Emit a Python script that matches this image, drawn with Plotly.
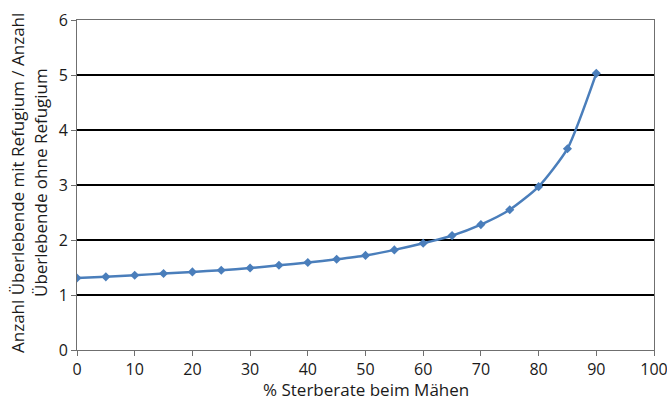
import plotly.graph_objects as go

mortality = [0, 5, 10, 15, 20, 25, 30, 35, 40, 45, 50, 55, 60, 65, 70, 75, 80, 85, 90]
ratio = [1.31, 1.33, 1.36, 1.39, 1.42, 1.45, 1.49, 1.54, 1.59, 1.65, 1.72, 1.82, 1.94,
         2.08, 2.28, 2.55, 2.97, 3.66, 5.03]

x_ticks = [0, 10, 20, 30, 40, 50, 60, 70, 80, 90, 100]
y_ticks = [0, 1, 2, 3, 4, 5, 6]

x_title = "% Sterberate beim Mähen"
y_title_lines = ["Anzahl Überlebende mit Refugium / Anzahl", "Überlebende ohne Refugium"]

FONT = "Open Sans"
BLUE = "#4A7EBB"
TXT = "#1a1a1a"

L, R, T, B = 77, 13, 20, 51
W, H = 667, 401
pw = W - L - R
ph = H - T - B

fig = go.Figure()
fig.add_trace(go.Scatter(
    x=mortality, y=ratio, mode="lines+markers",
    line=dict(color=BLUE, width=2.5, shape="spline", smoothing=0.6),
    marker=dict(symbol="diamond", size=7, color=BLUE),
    showlegend=False, hoverinfo="x+y",
))

fig.update_layout(
    width=W, height=H,
    margin=dict(l=L, r=R, t=T, b=B, autoexpand=False),
    paper_bgcolor="white", plot_bgcolor="white",
    font=dict(family=FONT, size=16, color=TXT),
    xaxis=dict(
        range=[0, 100], tickvals=x_ticks, showgrid=False, zeroline=False,
        showline=True, linecolor="#6f6f6f", linewidth=1, mirror=True,
        ticks="outside", ticklen=5, tickcolor="#6f6f6f", automargin=False,
        ticklabeloverflow="allow",
    ),
    yaxis=dict(
        range=[0, 6], tickvals=y_ticks, showgrid=True, gridcolor="black", gridwidth=1.5,
        zeroline=False,
        showline=True, linecolor="#6f6f6f", linewidth=1, mirror=True,
        ticks="outside", ticklen=5, tickcolor="#6f6f6f", automargin=False,
        ticklabeloverflow="allow",
    ),
)

# axis titles
fig.add_annotation(text=x_title, xref="paper", yref="paper",
                   x=(366 - L) / pw, y=-(389 - (T + ph)) / ph,
                   xanchor="center", yanchor="middle", showarrow=False,
                   font=dict(size=17, family=FONT, color=TXT))
for px, line in zip([17, 40], y_title_lines):
    fig.add_annotation(text=line, xref="paper", yref="paper",
                       x=(px - L) / pw, y=(T + ph - 183) / ph,
                       xanchor="center", yanchor="middle", textangle=-90, showarrow=False,
                       font=dict(size=17, family=FONT, color=TXT))

fig.write_html("out.html", config={"displayModeBar": False},
               post_script="document.body.style.margin='0';")
